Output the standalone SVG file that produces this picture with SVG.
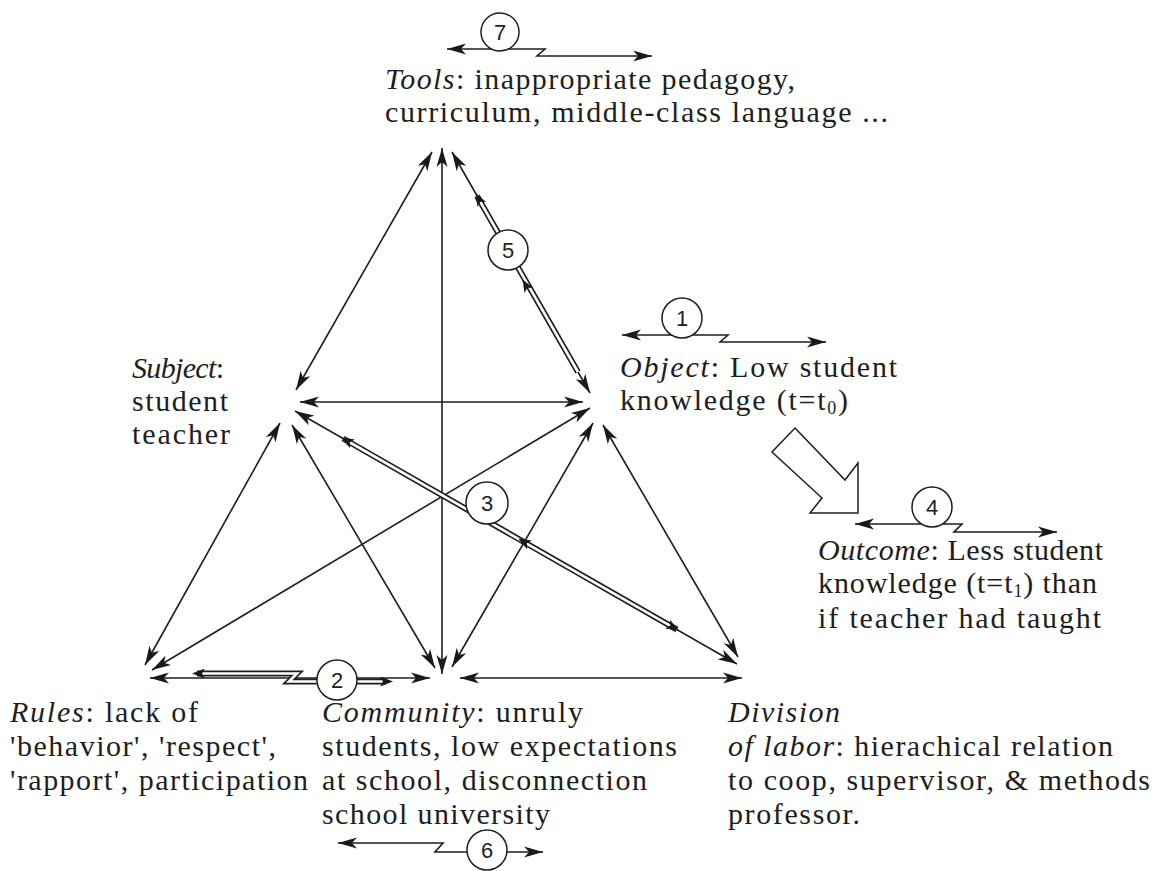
<svg xmlns="http://www.w3.org/2000/svg" width="1160" height="871" viewBox="0 0 1160 871">
<defs>
<marker id="ah" markerUnits="userSpaceOnUse" markerWidth="20" markerHeight="12" viewBox="0 0 20 12" refX="19" refY="6" orient="auto-start-reverse">
<path d="M0,0.5 L19,6 L0,11.5 L5,6 Z" fill="#1a1a1a"/>
</marker>
<marker id="sm" markerUnits="userSpaceOnUse" markerWidth="13" markerHeight="10" viewBox="0 0 13 10" refX="12" refY="5" orient="auto-start-reverse">
<path d="M0,0 L13,5 L0,10 L3,5 Z" fill="#1a1a1a"/>
</marker>
<style>
.ln{fill:none;stroke:#1e1e1e;stroke-width:1.6;marker-start:url(#ah);marker-end:url(#ah)}
.dbo{fill:none;stroke:#1e1e1e;stroke-width:6}
.dbi{fill:none;stroke:#fff;stroke-width:2.6}
.mk{fill:none;stroke:none;marker-end:url(#sm)}
.num circle{fill:#fff;stroke:#1e1e1e;stroke-width:1.5}
.num text{font-family:"Liberation Sans",Arial,sans-serif;font-size:22px;fill:#222;text-anchor:middle}
.lbl{font-family:"Liberation Serif","Times New Roman",serif;font-size:30px;fill:#1e1e1e}
.it{font-style:italic}
.sub{font-size:18px}
.hollow{fill:#fff;stroke:#1e1e1e;stroke-width:1.5;stroke-linejoin:miter}
</style>
</defs>

<g id="connectors">
  <!-- triangle relations -->
  <path class="ln" d="M432,152 L296,390"/>
  <path class="ln" d="M442,148 L442,674"/>
  <path class="ln" d="M452,152 L590,393"/>
  <path class="ln" d="M300,402 L583,402"/>
  <path class="ln" d="M280,423 L145,665"/>
  <path class="ln" d="M292,425 L435,668"/>
  <path class="ln" d="M295,411 L737,664"/>
  <path class="ln" d="M590,408 L152,670"/>
  <path class="ln" d="M593,423 L452,667"/>
  <path class="ln" d="M603,425 L738,657"/>
  <path class="ln" d="M150,678 L430,678"/>
  <path class="ln" d="M460,678 L742,678"/>

  <!-- contradiction double lines -->
  <path class="dbo" d="M477,196 L578,372"/>
  <path class="dbi" d="M477,196 L578,372"/>
  <path class="mk" d="M481,203 L476,194"/>
  <path class="mk" d="M528,289 L523,280"/>

  <path class="dbo" d="M343,438.5 L677,629.6"/>
  <path class="dbi" d="M343,438.5 L677,629.6"/>
  <path class="mk" d="M351,443 L342,438"/>
  <path class="mk" d="M528,544 L519,539"/>
  <path class="mk" d="M669,625 L678,630"/>

  <path class="dbo" d="M197,673.5 H297 L289,681.5 H320 M355,681.5 H386"/>
  <path class="dbi" d="M197,673.5 H297 L289,681.5 H320 M355,681.5 H386"/>
  <path class="mk" d="M203,673.5 L193,673.5"/>
  <path class="mk" d="M382,681.5 L392,681.5"/>

  <!-- indicator arrows -->
  <path class="ln" d="M447,49 H545 L537,56 H652"/>
  <path class="ln" d="M622,335 H728 L720,342 H826"/>
  <path class="ln" d="M855,524 H962 L954,532 H1057"/>
  <path class="ln" d="M338,843 H443 L435,852 H543"/>

  <!-- transformation arrow -->
  <polygon class="hollow" points="795,428 845,480 858,463 858,513 810,513 822,498 772,452"/>
</g>

<g id="num-7" class="num"><circle cx="500" cy="32" r="19"/><text x="500" y="40">7</text></g>
<g id="num-5" class="num"><circle cx="508" cy="250" r="20"/><text x="508" y="258">5</text></g>
<g id="num-1" class="num"><circle cx="682" cy="318" r="20"/><text x="682" y="326">1</text></g>
<g id="num-3" class="num"><circle cx="487" cy="503" r="21"/><text x="487" y="511">3</text></g>
<g id="num-4" class="num"><circle cx="932" cy="507" r="20"/><text x="932" y="515">4</text></g>
<g id="num-2" class="num"><circle cx="337" cy="680" r="20"/><text x="337" y="688">2</text></g>
<g id="num-6" class="num"><circle cx="487" cy="850" r="20"/><text x="487" y="858">6</text></g>

<g id="tools">
  <text class="lbl" x="385" y="89" textLength="410"><tspan class="it">Tools</tspan>: inappropriate pedagogy,</text>
  <text class="lbl" x="385" y="122" textLength="503">curriculum, middle-class language ...</text>
</g>
<g id="subject">
  <text class="lbl" x="132" y="378" textLength="92"><tspan class="it">Subject</tspan>:</text>
  <text class="lbl" x="132" y="411" textLength="96">student</text>
  <text class="lbl" x="132" y="444" textLength="98">teacher</text>
</g>
<g id="object">
  <text class="lbl" x="620" y="377" textLength="277"><tspan class="it">Object</tspan>: Low student</text>
  <text class="lbl" x="620" y="410" textLength="228">knowledge (t=t<tspan class="sub" dy="4">0</tspan><tspan dy="-4">)</tspan></text>
</g>
<g id="outcome">
  <text class="lbl" x="818" y="560" textLength="285"><tspan class="it">Outcome</tspan>: Less student</text>
  <text class="lbl" x="818" y="593" textLength="279">knowledge (t=t<tspan class="sub" dy="4">1</tspan><tspan dy="-4">) than</tspan></text>
  <text class="lbl" x="818" y="628" textLength="283">if teacher had taught</text>
</g>
<g id="rules">
  <text class="lbl" x="10" y="722" textLength="188"><tspan class="it">Rules</tspan>: lack of</text>
  <text class="lbl" x="10" y="756" textLength="266">'behavior', 'respect',</text>
  <text class="lbl" x="10" y="790" textLength="298">'rapport', participation</text>
</g>
<g id="community">
  <text class="lbl" x="322" y="722" textLength="261"><tspan class="it">Community</tspan>: unruly</text>
  <text class="lbl" x="322" y="756" textLength="355">students, low expectations</text>
  <text class="lbl" x="322" y="790" textLength="325">at school, disconnection</text>
  <text class="lbl" x="322" y="824" textLength="228">school university</text>
</g>
<g id="division">
  <text class="lbl it" x="728" y="722" textLength="112">Division</text>
  <text class="lbl" x="728" y="756" textLength="385"><tspan class="it">of labor</tspan>: hierachical relation</text>
  <text class="lbl" x="728" y="790" textLength="422">to coop, supervisor, &amp; methods</text>
  <text class="lbl" x="728" y="824" textLength="132">professor.</text>
</g>
</svg>
